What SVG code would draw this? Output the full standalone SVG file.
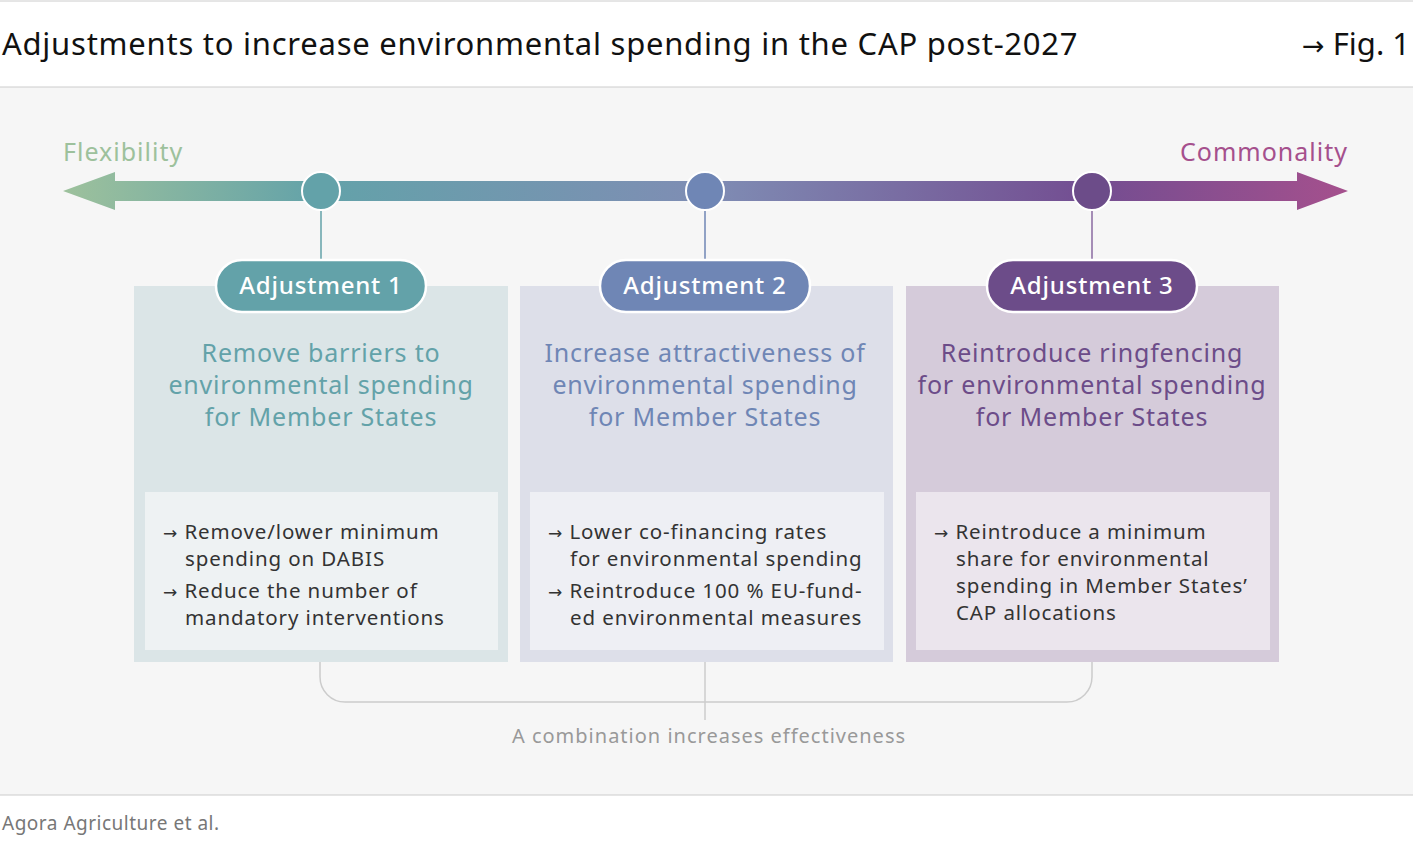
<svg xmlns="http://www.w3.org/2000/svg" width="1413" height="849" viewBox="0 0 1413 849">
<defs>
<linearGradient id="ax" x1="63" y1="0" x2="1348" y2="0" gradientUnits="userSpaceOnUse">
<stop offset="0" stop-color="#9dc19c"/><stop offset="0.2" stop-color="#63a2a9"/><stop offset="0.5" stop-color="#7f8db4"/><stop offset="0.8" stop-color="#734d91"/><stop offset="1" stop-color="#a5508d"/>
</linearGradient>
<style>
text{font-family:"Noto Sans","Open Sans",sans-serif}
.h{font-size:25px;text-anchor:middle;letter-spacing:0.8px}
.b{font-size:20.5px;fill:#333;letter-spacing:0.9px}
.pl{font-size:24px;fill:#fff;text-anchor:middle;font-weight:500;letter-spacing:0.8px}
.pill{stroke:#fff;stroke-width:2.5}
.ar{font-family:"DejaVu Sans",sans-serif;font-size:17px}
</style>
</defs>
<rect width="1413" height="849" fill="#fff"/>
<rect x="0" y="87" width="1413" height="708" fill="#f6f6f6"/>
<line x1="0" y1="1" x2="1413" y2="1" stroke="#ccc"/>
<line x1="0" y1="87" x2="1413" y2="87" stroke="#ccc"/>
<line x1="0" y1="795" x2="1413" y2="795" stroke="#ccc"/>
<text x="2" y="55" font-size="31" fill="#111" letter-spacing="0.75">Adjustments to increase environmental spending in the CAP post-2027</text>
<text x="1410" y="55" font-size="31" fill="#111" text-anchor="end"><tspan font-family="DejaVu Sans" font-size="27">→</tspan> Fig. 1</text>
<text x="2" y="830" font-size="19" fill="#777" letter-spacing="0.5">Agora Agriculture et al.</text>
<text x="63" y="161" font-size="25" fill="#9dc19c" letter-spacing="1">Flexibility</text>
<text x="1348" y="161" font-size="25" fill="#a5508d" text-anchor="end" letter-spacing="1">Commonality</text>
<g id="connectors">
<polygon points="63,191 115,172 115,181 1297,181 1297,172 1348,191 1297,210 1297,201 115,201 115,210" fill="url(#ax)"/>
<line x1="321" y1="205" x2="321" y2="260" stroke="#63a2a9" stroke-width="1.5"/>
<line x1="705" y1="205" x2="705" y2="260" stroke="#6f86b5" stroke-width="1.5"/>
<line x1="1092" y1="205" x2="1092" y2="260" stroke="#8a6aa0" stroke-width="1.5"/>
<path d="M320,662 V677 A25,25 0 0 0 345,702 H1067 A25,25 0 0 0 1092,677 V662" fill="none" stroke="#ccc" stroke-width="1.5"/>
<line x1="705" y1="662" x2="705" y2="720" stroke="#ccc" stroke-width="1.5"/>
</g>
<text x="709" y="743" font-size="20" fill="#999" text-anchor="middle" letter-spacing="1">A combination increases effectiveness</text>
<g id="adj1">
<rect x="134" y="286" width="374" height="376" fill="#dbe5e7"/>
<rect x="145" y="492" width="353" height="158" fill="#eef2f3"/>
<circle cx="321" cy="191" r="19" fill="#63a2a9" stroke="#fff" stroke-width="2"/>
<rect class="pill" x="216" y="260" width="210" height="52" rx="26" fill="#63a2a9"/>
<text class="pl" x="321" y="294">Adjustment  1</text>
<text class="h" fill="#63a2a9"><tspan x="321" y="362">Remove barriers to</tspan><tspan x="321" y="394">environmental spending</tspan><tspan x="321" y="426">for Member States</tspan></text>
<text class="b"><tspan x="163" y="539"><tspan class="ar">→</tspan> Remove/lower minimum</tspan><tspan x="185" y="566">spending on DABIS</tspan><tspan x="163" y="598"><tspan class="ar">→</tspan> Reduce the number of</tspan><tspan x="185" y="625">mandatory interventions</tspan></text>
</g>
<g id="adj2">
<rect x="520" y="286" width="373" height="376" fill="#dddfe9"/>
<rect x="530" y="492" width="354" height="158" fill="#eeeff4"/>
<circle cx="705" cy="191" r="19" fill="#6f86b5" stroke="#fff" stroke-width="2"/>
<rect class="pill" x="600" y="260" width="210" height="52" rx="26" fill="#6f86b5"/>
<text class="pl" x="705" y="294">Adjustment  2</text>
<text class="h" fill="#6f86b5"><tspan x="705" y="362">Increase attractiveness of</tspan><tspan x="705" y="394">environmental spending</tspan><tspan x="705" y="426">for Member States</tspan></text>
<text class="b"><tspan x="548" y="539"><tspan class="ar">→</tspan> Lower co-financing rates</tspan><tspan x="570" y="566">for environmental spending</tspan><tspan x="548" y="598"><tspan class="ar">→</tspan> Reintroduce 100 % EU-fund-</tspan><tspan x="570" y="625">ed environmental measures</tspan></text>
</g>
<g id="adj3">
<rect x="906" y="286" width="373" height="376" fill="#d5cbda"/>
<rect x="916" y="492" width="354" height="158" fill="#ebe5ed"/>
<circle cx="1092" cy="191" r="19" fill="#6c4c89" stroke="#fff" stroke-width="2"/>
<rect class="pill" x="987" y="260" width="210" height="52" rx="26" fill="#6c4c89"/>
<text class="pl" x="1092" y="294">Adjustment  3</text>
<text class="h" fill="#6c4c89"><tspan x="1092" y="362">Reintroduce ringfencing</tspan><tspan x="1092" y="394">for environmental spending</tspan><tspan x="1092" y="426">for Member States</tspan></text>
<text class="b"><tspan x="934" y="539"><tspan class="ar">→</tspan> Reintroduce a minimum</tspan><tspan x="956" y="566">share for environmental</tspan><tspan x="956" y="593">spending in Member States’</tspan><tspan x="956" y="620">CAP allocations</tspan></text>
</g>
</svg>
